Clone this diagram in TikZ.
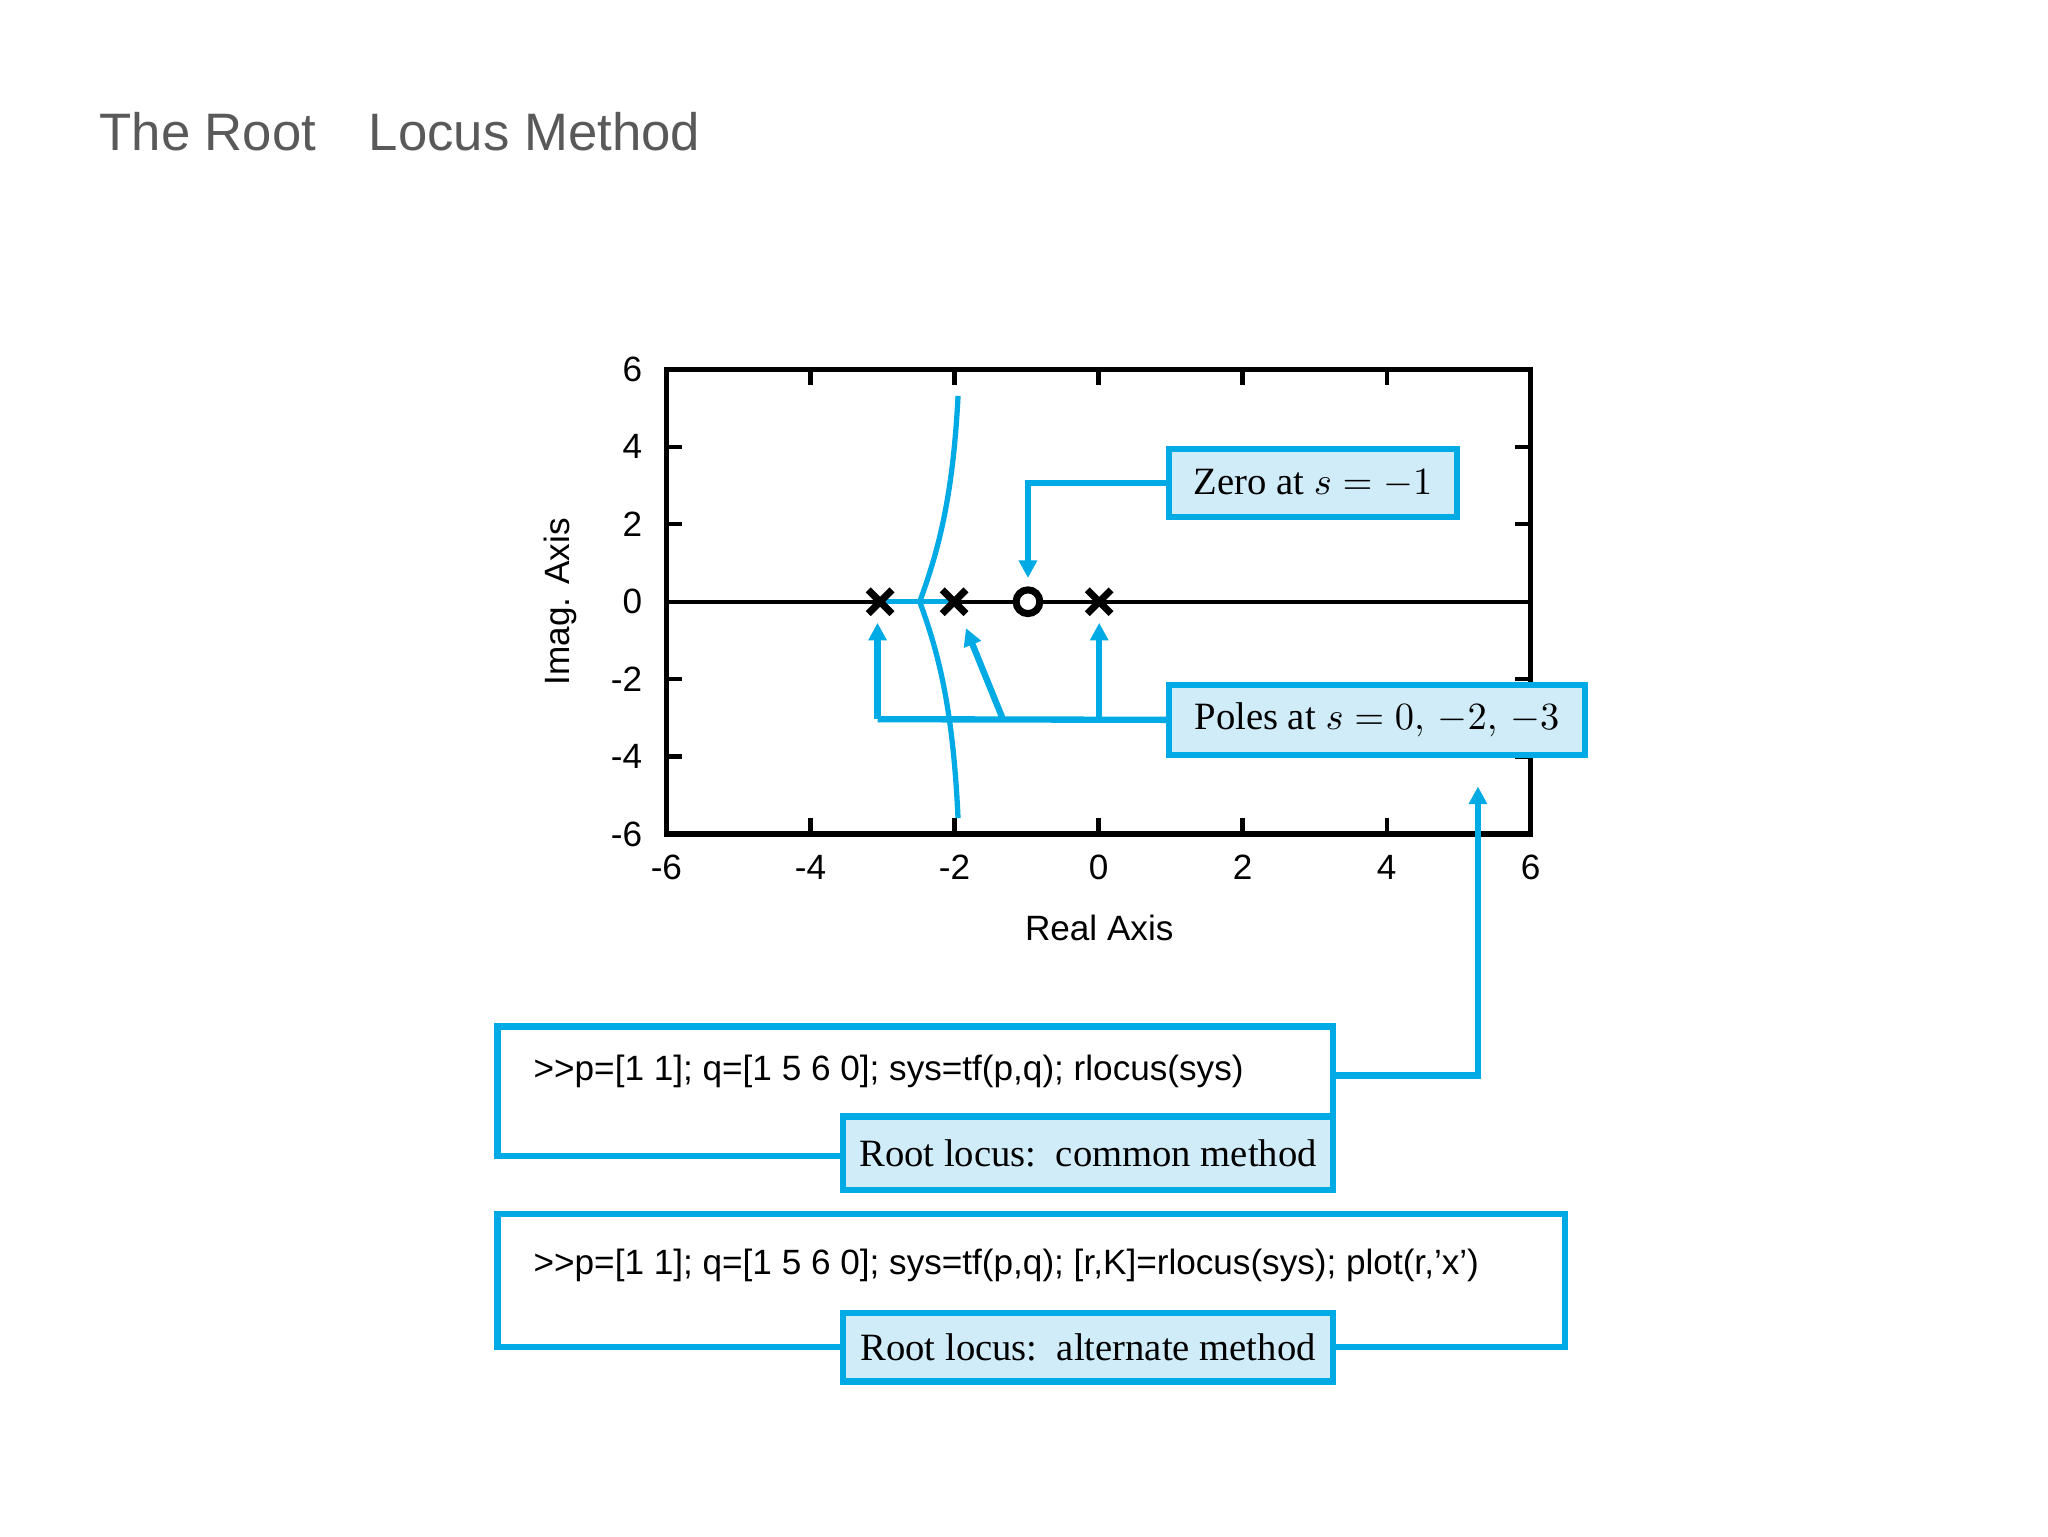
\documentclass[tikz,border=0pt]{standalone}
\usepackage{fontspec}
\setmainfont{Liberation Serif}
\setsansfont{Liberation Sans}
\usetikzlibrary{arrows.meta}
\definecolor{cy}{RGB}{0,170,228}
\definecolor{lb}{RGB}{208,236,248}
\tikzset{
 cl/.style={draw=cy,line width=1.8pt},
 lbl/.style={draw=cy,line width=1.8pt,fill=lb,inner sep=0pt,font=\fontsize{11}{13}\selectfont},
 ar/.style={cl,-{Triangle[length=5pt,width=5pt]}},
 tk/.style={font=\sffamily\fontsize{10}{12}\selectfont},
 mk/.style={line width=2pt}
}
\begin{document}
\begin{tikzpicture}[x=0.013196cm,y=-0.013196cm]
\useasboundingbox (0,0) rectangle (1552,1164);
\node[anchor=west,text=black!65,font=\sffamily\fontsize{15}{18}\selectfont] (title) at (66,100) {The Root\quad Locus Method};
% frame
\draw[line width=1.5pt] (505,280) rectangle (1160,632);
\draw[line width=1.2pt] (505,456) -- (1160,456);
\foreach \d [evaluate=\d as \xx using 505+(\d+6)*54.58] in {-6,-4,-2,0,2,4,6}{
 \draw[line width=1.2pt] (\xx,632) -- (\xx,620) (\xx,280) -- (\xx,292);
 \node[tk] at (\xx,657) {\d};}
\foreach \d [evaluate=\d as \yy using 280+(6-\d)*29.33] in {-6,-4,-2,0,2,4,6}{
 \draw[line width=1.2pt] (505,\yy) -- (517,\yy) (1160,\yy) -- (1148,\yy);
 \node[tk,anchor=east] at (496,\yy) {\d};}
\node[tk,rotate=90] (ylab) at (425,456) {Imag. Axis};
\node[tk] (xlab) at (833,703) {Real Axis};
% locus
\draw[cy,line width=1.5pt] (726,300) .. controls (722,380) and (710,420) .. (697,456) .. controls (710,492) and (722,532) .. (726,620);
\draw[cy,line width=1.5pt] (667,456) -- (697,456) -- (723,456);
% markers
\foreach \xx/\n in {667/p3,723/p2,833/p0}{
 \coordinate (\n) at (\xx,456);
 \draw[mk] (\xx-9,447) -- (\xx+9,465) (\xx-9,465) -- (\xx+9,447);}
\draw[mk,fill=white] (779,456) circle (9) coordinate (z1);
% callouts
\node[lbl,minimum width=218*0.013196cm,minimum height=52*0.013196cm] (zb) at (995,366) {Zero at $s=-1$};
\draw[ar] (zb.west) -| (779,438);
\node[lbl,minimum width=315*0.013196cm,minimum height=53*0.013196cm] (pb) at (1043.5,545.5) {Poles at $s=0,\,-2,\,-3$};
\draw[cl] (pb.west) -- (665,545);
\draw[ar] (665,545) -- (665,472);
\draw[ar] (833,545) -- (833,472);
\draw[ar] (760,545) -- (732,476);
\node[draw=cy,line width=1.8pt,minimum width=633*0.013196cm,minimum height=98*0.013196cm,inner sep=0pt] (c1) at (693.5,827) {};
\node[anchor=west,font=\sffamily\fontsize{10}{12}\selectfont] at (395,812) {>{}>p=[1 1]; q=[1 5 6 0]; sys=tf(p,q); rlocus(sys)};
\node[lbl,minimum width=371*0.013196cm,minimum height=56*0.013196cm] (l1) at (824.5,874) {Root locus:\enspace common method};
\draw[ar] (1010,815) -| (1120,596);
\node[draw=cy,line width=1.8pt,minimum width=809*0.013196cm,minimum height=101*0.013196cm,inner sep=0pt] (c2) at (781.5,970.5) {};
\node[anchor=west,font=\sffamily\fontsize{10}{12}\selectfont] at (395,959) {>{}>p=[1 1]; q=[1 5 6 0]; sys=tf(p,q); [r,K]=rlocus(sys); plot(r,'x')};
\node[lbl,minimum width=371*0.013196cm,minimum height=52*0.013196cm] (l2) at (824.5,1021) {Root locus:\enspace alternate method};
\end{tikzpicture}
\end{document}
